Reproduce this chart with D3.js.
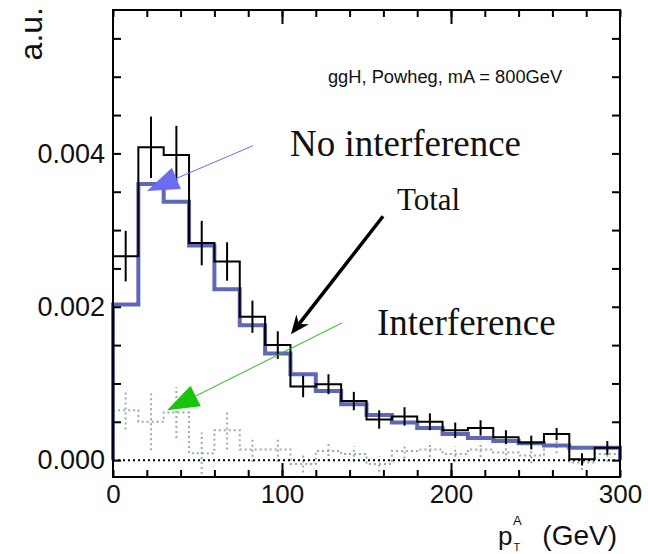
<!DOCTYPE html>
<html>
<head>
<meta charset="utf-8">
<script src="https://cdn.jsdelivr.net/npm/d3@7"></script>
<style>
  body { margin: 0; background: #fff; }
  svg { display: block; }
  .sans { font-family: "Liberation Sans", Arial, sans-serif; fill: #111; }
  .serif { font-family: "Liberation Serif", "Times New Roman", serif; fill: #111; }
</style>
</head>
<body>
<div class="canvas"></div>
<script>
const dims = { width: 648, height: 554 };

// bins of 15 GeV, low edges
const binLow = [0, 15, 30, 45, 60, 75, 90, 105, 120, 135, 150, 165, 180, 195, 210, 225, 240, 255, 270, 285];
const binWidth = 15;

// Total (black, with errors)
const total = [0.00266, 0.00408, 0.00398, 0.00283, 0.00259, 0.00187, 0.00150, 0.00096, 0.00099, 0.00077,
               0.00053, 0.00057, 0.00050, 0.00039, 0.00042, 0.00030, 0.00023, 0.00034, 0.00001, 0.00016];
const totalErr = [0.00033, 0.00040, 0.00038, 0.00029, 0.00025, 0.00021, 0.00018, 0.00014, 0.00013, 0.00012,
                  0.00012, 0.00012, 0.00011, 0.00010, 0.00010, 0.00009, 0.00009, 0.00008, 0.00008, 0.00009];

// No interference (blue)
const noInterf = [0.00203, 0.00360, 0.00337, 0.00280, 0.00223, 0.00176, 0.00139, 0.00112, 0.00090, 0.00073,
                  0.00059, 0.00049, 0.00042, 0.00034, 0.00029, 0.00025, 0.00022, 0.00019, 0.00016, 0.00016];

// Interference (dotted)
const interf = [0.00065, 0.00050, 0.00062, 0.00009, 0.00039, 0.00014, 0.00014, -0.00005, 0.00012, 0.00008,
                -0.00005, 0.00012, 0.00014, 0.00008, 0.00014, 0.00010, 0.00006, 0.00019, -0.00003, 0.00008];
const interfErr = [0.00025, 0.00037, 0.00033, 0.00027, 0.00025, 0.00016, 0.00016, 0.00011, 0.00013, 0.00010,
                   0.00010, 0.00010, 0.00010, 0.00010, 0.00010, 0.00010, 0.00010, 0.00010, 0.00010, 0.00010];

const xTickLabels = [0, 100, 200, 300];
const yTickLabels = [0, 0.002, 0.004];

// annotations in data units
const annotations = [
  { text: 'ggH, Powheg, mA = 800GeV', x: 127.2, y: 0.00492, cls: 'sans', size: 18.3 },
  { text: 'No interference', x: 104.7, y: 0.00397, cls: 'serif', size: 37 },
  { text: 'Total', x: 168, y: 0.00326, cls: 'serif', size: 31 },
  { text: 'Interference', x: 156.2, y: 0.00163, cls: 'serif', size: 37 }
];
const arrows = [
  { from: [82.8, 0.00410], to: [20.1, 0.00351], color: '#6a6cf2', width: 1, headLen: 32, headW: 11.5, notch: 0 },
  { from: [159.8, 0.00318], to: [105.3, 0.00164], color: '#000', width: 3.5, headLen: 19, headW: 8, notch: 6 },
  { from: [135.5, 0.00179], to: [32.0, 0.00065], color: '#18c40c', width: 1, headLen: 32, headW: 11.5, notch: 0 }
];

const x = d3.scaleLinear().domain([0, 300]).range([113, 620]);
const y = d3.scaleLinear().domain([-0.00022, 0.00587]).range([477, 10]);

const svg = d3.select('.canvas')
  .append('svg')
  .attr('width', dims.width)
  .attr('height', dims.height);

const stepPoints = vals => {
  const pts = [[binLow[0], 0]];
  vals.forEach((v, i) => pts.push([binLow[i], v]));
  pts.push([binLow[binLow.length - 1] + binWidth, vals[vals.length - 1]]);
  pts.push([binLow[binLow.length - 1] + binWidth, 0]);
  return pts;
};
const step = d3.line().x(d => x(d[0])).y(d => y(d[1])).curve(d3.curveStepAfter);

// interference (dotted)
const interfGroup = svg.append('g');
interfGroup.append('path')
  .attr('d', step(stepPoints(interf)))
  .attr('fill', 'none')
  .attr('stroke', '#95b09f')
  .attr('stroke-width', 2)
  .attr('stroke-dasharray', '2,3');
interfGroup.selectAll('line')
  .data(interf)
  .join('line')
  .attr('x1', (d, i) => x(binLow[i] + binWidth / 2))
  .attr('x2', (d, i) => x(binLow[i] + binWidth / 2))
  .attr('y1', (d, i) => y(d - interfErr[i]))
  .attr('y2', (d, i) => y(d + interfErr[i]))
  .attr('stroke', '#95b09f')
  .attr('stroke-width', 2)
  .attr('stroke-dasharray', '2,3');

// zero line
svg.append('line')
  .attr('x1', x(0)).attr('x2', x(300))
  .attr('y1', y(0)).attr('y2', y(0))
  .attr('stroke', '#000')
  .attr('stroke-width', 2)
  .attr('stroke-dasharray', '2,3');

// no interference (blue)
svg.append('path')
  .attr('d', step(stepPoints(noInterf)))
  .attr('fill', 'none')
  .attr('stroke', '#4c57b0')
  .attr('stroke-opacity', 0.9)
  .attr('stroke-width', 4);

// total (black)
svg.append('path')
  .attr('d', step(stepPoints(total)))
  .attr('fill', 'none')
  .attr('stroke', '#000')
  .attr('stroke-width', 2);
svg.append('g').selectAll('line')
  .data(total)
  .join('line')
  .attr('x1', (d, i) => x(binLow[i] + binWidth / 2))
  .attr('x2', (d, i) => x(binLow[i] + binWidth / 2))
  .attr('y1', (d, i) => y(d - totalErr[i]))
  .attr('y2', (d, i) => y(d + totalErr[i]))
  .attr('stroke', '#000')
  .attr('stroke-width', 2);

// frame
svg.append('rect')
  .attr('x', x(0)).attr('y', y.range()[1])
  .attr('width', x(300) - x(0))
  .attr('height', y.range()[0] - y.range()[1])
  .attr('fill', 'none')
  .attr('stroke', '#000')
  .attr('stroke-width', 2);

// axes
const xMinor = d3.range(0, 301, 20);
const xMajor = [100, 200];
const yMinor = d3.range(0, 0.0058, 0.0005);

const styleAxis = g => {
  g.select('.domain').remove();
  g.selectAll('.tick line').attr('stroke', '#000').attr('stroke-width', 2);
  g.selectAll('.tick text').attr('class', 'sans').attr('fill', '#111');
};

[['bottom', y.range()[0]], ['top', y.range()[1]]].forEach(([side, pos]) => {
  const ax = side === 'bottom' ? d3.axisBottom(x) : d3.axisTop(x);
  svg.append('g').attr('transform', `translate(0,${pos})`)
    .call(ax.tickValues(xMinor).tickSize(-7).tickFormat(''))
    .call(styleAxis);
  const axM = side === 'bottom' ? d3.axisBottom(x) : d3.axisTop(x);
  svg.append('g').attr('transform', `translate(0,${pos})`)
    .call(axM.tickValues(xMajor).tickSize(-14).tickFormat(''))
    .call(styleAxis);
});

svg.append('g').attr('transform', `translate(0,${y.range()[0]})`)
  .call(d3.axisBottom(x).tickValues(xTickLabels).tickSize(0).tickPadding(8).tickFormat(d3.format('d')))
  .call(styleAxis)
  .selectAll('text').style('font-size', '26px').attr('dy', '0.71em');

svg.append('g').attr('transform', `translate(${x(0)},0)`)
  .call(d3.axisLeft(y).tickValues(yMinor).tickSize(-8).tickFormat(''))
  .call(styleAxis);
svg.append('g').attr('transform', `translate(${x(300)},0)`)
  .call(d3.axisRight(y).tickValues(yMinor).tickSize(-8).tickFormat(''))
  .call(styleAxis);
svg.append('g').attr('transform', `translate(${x(0)},0)`)
  .call(d3.axisLeft(y).tickValues(yTickLabels).tickSize(0).tickPadding(8).tickFormat(d3.format('.3f')))
  .call(styleAxis)
  .selectAll('text').style('font-size', '27px');

// axis titles
svg.append('text')
  .attr('class', 'sans')
  .attr('transform', `translate(42,7) rotate(-90)`)
  .attr('text-anchor', 'end')
  .style('font-size', '32px')
  .text('a.u.');

const xt = svg.append('g').attr('transform', `translate(${x(300)},544.5)`);
xt.append('text').attr('class', 'sans').attr('text-anchor', 'end').attr('x', -3)
  .style('font-size', '28px').text('(GeV)');
xt.append('text').attr('class', 'sans').attr('x', -122)
  .style('font-size', '26px').text('p');
xt.append('text').attr('class', 'sans').attr('x', -107).attr('y', -19.5)
  .style('font-size', '13px').text('A');
xt.append('text').attr('class', 'sans').attr('x', -106.5).attr('y', 6.5)
  .style('font-size', '11px').text('T');

// annotations
svg.append('g').selectAll('text')
  .data(annotations)
  .join('text')
  .attr('class', d => d.cls)
  .attr('x', d => x(d.x))
  .attr('y', d => y(d.y))
  .style('font-size', d => d.size + 'px')
  .text(d => d.text);

arrows.forEach(a => {
  const x0 = x(a.from[0]), y0 = y(a.from[1]);
  const x1 = x(a.to[0]), y1 = y(a.to[1]);
  const len = Math.hypot(x1 - x0, y1 - y0);
  const ux = (x1 - x0) / len, uy = (y1 - y0) / len;
  const px = -uy, py = ux;
  const bx = x1 - ux * a.headLen, by = y1 - uy * a.headLen;
  const nx = x1 - ux * (a.headLen - a.notch), ny = y1 - uy * (a.headLen - a.notch);
  svg.append('line')
    .attr('x1', x0).attr('y1', y0)
    .attr('x2', nx).attr('y2', ny)
    .attr('stroke', a.color)
    .attr('stroke-width', a.width);
  svg.append('path')
    .attr('d', `M${x1},${y1}L${bx + px * a.headW},${by + py * a.headW}L${nx},${ny}L${bx - px * a.headW},${by - py * a.headW}Z`)
    .attr('fill', a.color);
});
</script>
</body>
</html>
